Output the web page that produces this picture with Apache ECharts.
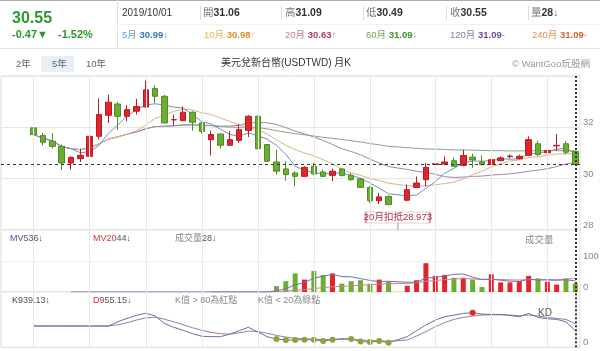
<!DOCTYPE html>
<html><head><meta charset="utf-8">
<script src="https://cdn.jsdelivr.net/npm/echarts@6/dist/echarts.min.js"></script>
<style>html,body{margin:0;padding:0;background:#fff}#c{width:600px;height:351px}</style>
</head><body><div id="c"></div>
<script>
// ---------- DATA ----------
const months = [
 '2015/01','2015/02','2015/03','2015/04','2015/05','2015/06','2015/07','2015/08','2015/09','2015/10','2015/11','2015/12',
 '2016/01','2016/02','2016/03','2016/04','2016/05','2016/06','2016/07','2016/08','2016/09','2016/10','2016/11','2016/12',
 '2017/01','2017/02','2017/03','2017/04','2017/05','2017/06','2017/07','2017/08','2017/09','2017/10','2017/11','2017/12',
 '2018/01','2018/02','2018/03','gap','2018/04','2018/05','2018/06','2018/07','2018/08','2018/09','2018/10','2018/11','2018/12',
 '2019/01','2019/02','2019/03','2019/04','2019/05','2019/06','2019/07','2019/08','2019/09','2019/10'];
const open  = [31.98,31.68,31.46,31.26,30.61,30.78,30.87,31.65,32.47,32.91,32.43,32.63,32.79,33.51,33.21,32.29,32.26,32.59,32.17,31.52,31.74,31.30,31.49,31.88,32.43,31.33,30.65,30.38,30.22,30.09,30.48,30.26,30.13,30.38,30.13,29.99,29.66,29.14,29.31,null,29.16,29.66,29.96,30.55,30.57,30.70,30.52,30.84,30.65,30.55,30.70,30.86,30.78,30.91,31.36,31.01,31.28,31.36,31.06];
const close = [31.72,31.42,31.26,30.61,30.83,30.91,31.65,32.50,32.98,32.43,32.69,32.81,33.46,33.21,32.17,32.30,32.59,32.20,31.84,31.72,31.30,31.52,31.91,32.43,31.17,30.68,30.29,30.16,30.09,30.44,30.18,30.09,30.29,30.12,29.96,29.66,29.14,29.29,28.99,null,29.57,29.83,30.44,30.58,30.65,30.48,30.90,30.73,30.55,30.74,30.81,30.88,30.87,31.52,30.94,31.10,31.30,31.03,30.55];
const low   = [31.05,31.29,31.17,30.35,30.35,30.65,30.87,31.52,32.17,31.91,32.24,32.50,32.79,32.95,32.17,32.08,32.24,31.87,31.75,30.90,31.17,31.30,31.39,31.62,31.14,30.65,30.16,29.92,29.70,30.06,30.16,30.05,29.90,30.09,29.92,29.64,29.05,29.01,28.96,null,29.12,29.64,29.70,30.29,30.52,30.47,30.48,30.42,30.52,30.52,30.68,30.78,30.75,30.88,30.87,30.99,31.09,30.94,30.49];
const high  = [32.00,31.78,31.78,31.33,30.87,31.17,31.72,33.12,33.27,32.98,32.86,33.11,33.82,33.64,33.27,32.50,32.82,32.63,32.21,31.87,31.77,31.85,32.13,32.47,32.46,31.35,31.13,30.68,30.29,30.48,30.61,30.35,30.39,30.42,30.22,30.03,29.70,29.44,29.34,null,29.77,30.09,30.61,30.74,30.87,30.83,31.13,30.97,30.91,30.94,30.87,30.94,30.94,31.65,31.48,31.17,31.74,31.46,31.09];
const ma5  = [31.72,31.57,31.47,31.25,31.17,31.01,31.05,31.30,31.77,32.09,32.45,32.68,32.87,32.92,32.87,32.79,32.75,32.49,32.22,32.13,31.93,31.72,31.66,31.78,31.67,31.54,31.30,30.95,30.48,30.33,30.23,30.19,30.22,30.22,30.13,30.02,29.83,29.63,29.41,null,29.33,29.36,29.62,29.88,30.21,30.40,30.61,30.69,30.68,30.70,30.77,30.76,30.77,30.96,31.00,31.06,31.15,31.18,30.98];
const ma10 = [31.72,31.57,31.47,31.25,31.17,31.13,31.20,31.36,31.54,31.63,31.73,31.87,32.09,32.35,32.48,32.62,32.71,32.68,32.57,32.50,32.36,32.23,32.08,32.00,31.90,31.74,31.51,31.30,31.13,31.00,30.89,30.74,30.58,30.35,30.23,30.13,30.01,29.93,29.82,null,29.73,29.69,29.73,29.76,29.81,29.86,29.99,30.16,30.28,30.46,30.58,30.69,30.73,30.82,30.85,30.92,30.96,30.97,30.97];
const ma20 = [31.72,31.57,31.47,31.25,31.17,31.13,31.20,31.36,31.54,31.63,31.73,31.82,31.94,32.03,32.04,32.06,32.09,32.10,32.08,32.07,32.04,32.05,32.08,32.17,32.19,32.18,32.11,31.99,31.85,31.75,31.62,31.49,31.33,31.17,31.06,30.93,30.76,30.61,30.47,null,30.36,30.29,30.24,30.17,30.08,30.05,30.06,30.09,30.10,30.14,30.16,30.19,30.23,30.29,30.33,30.39,30.47,30.57,30.63];
const ma60 = [31.72,31.57,31.47,31.25,31.17,31.13,31.20,31.36,31.54,31.63,31.73,31.82,31.94,32.03,32.04,32.06,32.09,32.10,32.08,32.07,32.03,32.01,32.00,32.02,31.99,31.94,31.87,31.81,31.75,31.71,31.66,31.61,31.57,31.53,31.48,31.43,31.37,31.32,31.26,null,31.21,31.18,31.16,31.15,31.14,31.12,31.12,31.11,31.10,31.09,31.09,31.08,31.08,31.09,31.09,31.09,31.09,31.09,31.08];
const volume = [0,0,0,0,0,0,0,0,0,0,0,0,0,0,0,0,0,0,0,0,0,0,0,0,0,0,19,35,60,40,68,55,60,27,35,38,27,40,33,null,20,38,93,52,55,46,46,40,16,57,31,31,35,52,44,33,24,44,28];
const mv5  = [null,null,null,null,0,0,0,0,0,0,0,0,0,0,0,0,0,0,0,0,0,0,0,0,0,0,3.8,10.8,22.8,30.8,44.4,51.6,56.6,50,49,43,37.4,33.4,34.6,null,31.6,31.6,44.8,47.2,51.6,56.8,58.4,47.8,40.6,41,38,35,34,41.2,38.6,39,37.6,39.4,36];
const mv20 = [null,null,null,null,null,null,null,null,null,null,null,null,null,null,null,null,null,null,null,0,0,0,0,0,0,0,1,2.7,5.7,7.7,11.1,13.9,16.9,18.2,20,21.9,23.3,25.3,26.9,null,27.9,29.8,34.5,37,39.8,42.1,43.2,42.2,40.3,41.4,40.4,39.2,38.6,39.9,40.2,40,39.9,40.8,44];
const kLine = [50,50,50,50,50,50,50,50,50,60,68,75,80,74,56,47,40,32,26,25,25,31,39,47,36,25,19.5,17.2,17.2,17.9,17.9,15,17.9,20.3,19.5,13.9,12.3,15,10.7,null,25,39,52.4,64.1,71.8,75.7,79.6,81.3,78.1,77.3,77.3,75,71.8,79.6,70.3,67.1,65.6,60.1,39.13];
const dLine = [50,50,50,50,50,50,50,50,50,53,58,64,69,71,66,60,53,46,40,35,32,31,34,38,37,33,28,24,21,20,19,18,18,19,19,17,16,15,14,null,17.2,26.6,36.7,48.4,57.8,65.6,70.3,73.5,75.7,76.5,76.5,75.7,74.2,75.7,73.5,70.3,67.9,65.6,55.15];
const lastPrice = 30.55;
const deduct20 = 28.973;
const priceTicks = [28, 30, 32];
const volTicks = [0, 100];
const header = {date:'2019/10/01', open:'31.06', high:'31.09', low:'30.49', close:'30.55', vol:'28', chg:'-0.47', pct:'-1.52%'};
const maLabels = [['5月','30.99','↓'],['10月','30.98','↑'],['20月','30.63','↑'],['60月','31.09','↓'],['120月','31.09','-'],['240月','31.09','-']];

// ---------- BUILD ----------
const FONT = '"Liberation Sans", Arial, "Noto Sans CJK TC", sans-serif';
const PADN = 3;
const cats = ['p1','p2','p3'].concat(months);
const pad = a => [null,null,null].concat(a);
const candles = ['-','-','-'].concat(months.map((m,i)=> open[i]==null ? '-' : [open[i], close[i], low[i], high[i]]));
const gapIndex = PADN + months.indexOf('gap');
const RED = '#e0262c', GREEN = '#6cae34';
const volData = pad(volume).map((v,i)=>{
  const j = i - PADN;
  if (v == null) return '-';
  const up = j>=0 && close[j] >= open[j];
  return {value: v, itemStyle:{color: up ? RED : GREEN}};
});
const vGrid = months.filter(m => /\/(01|07)$/.test(m)).map(m => ({xAxis: m}));
const vGridSeries = (gi) => ({
  type:'line', xAxisIndex:gi, yAxisIndex:gi, data: cats.map(()=>null), z:0, silent:true,
  markLine:{silent:true, symbol:['none','none'], label:{show:false}, animation:false,
    lineStyle:{color:'#e8e8e8', width:1, type:'solid'}, data: vGrid}
});
const lastLine = (gi) => ({
  type:'line', xAxisIndex:gi, yAxisIndex:gi, data: cats.map(()=>null), z:6, silent:true,
  markLine:{silent:true, symbol:['none','none'], label:{show:false}, animation:false,
    lineStyle:{color:'#333', width:2, type:[2,2]}, data:[{xAxis: months[months.length-1]}]}
});
const lineS = (gi, data, color, extra) => Object.assign({
  type:'line', xAxisIndex:gi, yAxisIndex:gi, data: pad(data), showSymbol:false, symbol:'none',
  connectNulls:true, lineStyle:{color, width:1}, itemStyle:{color}, z:3, silent:true
}, extra||{});

const axisLabelBase = {color:'#888', fontSize:9.5, fontFamily:FONT, verticalAlign:'bottom', margin:3};
const xAxes = [0,1,2].map(gi => ({type:'category', gridIndex:gi, data:cats, boundaryGap:true,
  axisLine:{show:false}, axisTick:{show:false}, axisLabel:{show:false}, splitLine:{show:false}}));
const yAxes = [
  {type:'value', gridIndex:0, position:'right', min:28, max:34, interval:2, scale:true,
   axisLine:{show:false}, axisTick:{show:false},
   axisLabel:Object.assign({formatter:v=> priceTicks.includes(v)? String(v):''}, axisLabelBase),
   splitLine:{lineStyle:{color:'#e6e6e6'}}},
  {type:'value', gridIndex:1, position:'right', min:0, max:200, interval:100,
   axisLine:{show:false}, axisTick:{show:false},
   axisLabel:Object.assign({formatter:v=> volTicks.includes(v)? String(v):''}, axisLabelBase),
   splitLine:{lineStyle:{color:'#f0f0f0'}}},
  {type:'value', gridIndex:2, position:'right', min:0, max:130, interval:130,
   axisLine:{show:false}, axisTick:{show:false},
   axisLabel:Object.assign({formatter:v=> v===0? '0':''}, axisLabelBase),
   splitLine:{show:false}}
];
const gridBase = {left:1, right:20, show:true, borderColor:'#dadada', borderWidth:1, outerBoundsMode:'none', containLabel:false};
const grids = [
  Object.assign({top:76, height:154}, gridBase),
  Object.assign({top:230, height:62}, gridBase),
  Object.assign({top:292, height:55.3}, gridBase)
];

// ---------- TEXT ----------
const T = (x, y, text, rich, align) => ({type:'text', x, y, silent:true, z:100,
  style:{text, rich, fill:'#555', fontSize:11, fontFamily:FONT, verticalAlign:'middle', align: align||'left'}});
const R = (fill, size, bold) => ({fill, fontSize:size, fontFamily:FONT, fontWeight: bold?'bold':'normal'});
const hline = (x1,y,x2,c) => ({type:'line', silent:true, z:90, shape:{x1, y1:y, x2, y2:y}, style:{stroke:c, lineWidth:1}});
const vline = (x,y1,y2,c) => ({type:'line', silent:true, z:90, shape:{x1:x, y1, x2:x, y2}, style:{stroke:c, lineWidth:1}});
const maColors = [['#6a9ad0','#3a78b8'],['#e6b060','#d99024'],['#c07898','#a83c70'],['#6aa850','#3e9028'],['#8a7ab0','#6a4c9c'],['#e88a50','#d8602a']];
const maX = [122,204,285,366,450,532];
const graphics = [
  hline(0,0.5,600,'#aaa'),
  vline(117.5,0,48,'#e0e0e0'),
  hline(0,48.5,600,'#e4e4e4'),
  hline(117,24.5,600,'#f0f0f0'),
  T(12, 19, '{a|30.55}', {a:R('#2d962d',16,true)}),
  T(12, 35, '{a|'+header.chg+'▼}', {a:R('#2d962d',11,true)}),
  T(58, 35, '{a|'+header.pct+'}', {a:R('#2d962d',11,true)}),
  T(122, 13, '{a|'+header.date+'}', {a:R('#333',10,false)}),
  T(203, 13, '{g|開}{b|'+header.open+'}', {g:R('#777',10.5,false), b:R('#333',10.5,true)}),
  T(285, 13, '{g|高}{b|'+header.high+'}', {g:R('#777',10.5,false), b:R('#333',10.5,true)}),
  T(366, 13, '{g|低}{b|'+header.low+'}', {g:R('#777',10.5,false), b:R('#333',10.5,true)}),
  T(450, 13, '{g|收}{b|'+header.close+'}', {g:R('#777',10.5,false), b:R('#333',10.5,true)}),
  T(531, 13, '{g|量}{b|'+header.vol+'}{g|↓}', {g:R('#777',10.5,false), b:R('#333',10.5,true)}),
  vline(200.5,6,20,'#ddd'), vline(281.5,6,20,'#ddd'), vline(363.5,6,20,'#ddd'), vline(446.5,6,20,'#ddd'), vline(528.5,6,20,'#ddd'),
  ...maLabels.map((m,i)=> T(maX[i], 35, '{a|'+m[0]+' }{b|'+m[1]+'}{a|'+m[2]+'}', {a:R(maColors[i][0],9.5,false), b:R(maColors[i][1],9.5,true)})),
  // title row
  {type:'rect', silent:true, z:80, shape:{x:41, y:56, width:33, height:16}, style:{fill:'#e8eff7'}},
  T(16, 64, '{a|2年}', {a:R('#666',9.5,false)}),
  T(52, 64, '{a|5年}', {a:R('#666',9.5,false)}),
  T(86, 64, '{a|10年}', {a:R('#666',9.5,false)}),
  T(286, 63, '{a|美元兌新台幣(USDTWD) 月K}', {a:R('#333',10,false)}, 'center'),
  T(512, 64, '{a|© WantGoo玩股網}', {a:R('#999',9.5,false)}),
  // volume labels
  T(10, 239, '{a|MV5}{b|36↓}', {a:R('#55559c',9,false), b:R('#555',9,false)}),
  T(93, 239, '{a|MV20}{b|44↓}', {a:R('#c0404e',9,false), b:R('#555',9,false)}),
  T(175, 239, '{a|成交量}{b|28↓}', {a:R('#888',9,false), b:R('#555',9,false)}),
  T(525, 240, '{a|成交量}', {a:R('#888',9.5,false)}),
  // KD labels
  T(12, 301, '{a|K9}{b|39.13↓}', {a:R('#444',9,false), b:R('#555',9,false)}),
  T(93, 301, '{a|D9}{b|55.15↓}', {a:R('#c0303c',9,false), b:R('#555',9,false)}),
  T(175, 301, '{a|K值 > 80為紅點}', {a:R('#888',9,false)}),
  T(258, 301, '{a|K值 < 20為綠點}', {a:R('#888',9,false)}),
  T(538, 313, '{a|KD}', {a:R('#555',10,false)})
];

const option = {
  animation:false,
  backgroundColor:'#fff',
  grid: grids, xAxis: xAxes, yAxis: yAxes,
  graphic: graphics,
  series: [
    vGridSeries(0), vGridSeries(1), vGridSeries(2),
    {type:'candlestick', xAxisIndex:0, yAxisIndex:0, data:candles, barWidth:6, z:4, silent:true,
     itemStyle:{color:RED, color0:GREEN, borderColor:'#b81c20', borderColor0:'#4f8c22', borderWidth:1},
     markLine:{silent:true, symbol:['none','none'], label:{show:false}, animation:false,
       data:[{yAxis:lastPrice, lineStyle:{color:'#333', width:1, type:[3,3]}}]},
     markPoint:{silent:true, animation:false, data:[
       {coord:[gapIndex, 28], symbol:'rect', symbolSize:[1,8], symbolOffset:[0,-4], itemStyle:{color:'#c98c98'}, label:{show:false}},
       {coord:[gapIndex, 28], symbol:'rect', symbolSize:[64,11], symbolOffset:[0,-12.5],
        itemStyle:{color:'#fff', borderColor:'#d4a0aa', borderWidth:1},
        label:{show:true, position:'inside', formatter:'20月扣抵'+deduct20, color:'#a8324a', fontSize:9.5, fontFamily:FONT}}
     ]}},
    lineS(0, ma60, '#8f9f8f'),
    lineS(0, ma20, '#a884a4'),
    lineS(0, ma10, '#d9b48a'),
    lineS(0, ma5, '#6d94bb'),
    {type:'bar', xAxisIndex:1, yAxisIndex:1, data:volData, barWidth:5, z:3, silent:true},
    lineS(1, mv20, '#d08090'),
    lineS(1, mv5, '#7070b0'),
    lineS(2, dLine, '#a47a96'),
    lineS(2, kLine, '#6c6ca8', {showSymbol:true, symbol:'circle',
      symbolSize:(v)=> (v!=null && (v<20 || v>80)) ? 6 : 0,
      itemStyle:{color:(p)=> p.value>80 ? '#e02a2a' : '#8aa63a', borderColor:'#ffffff', borderWidth:0}}),
    lastLine(0), lastLine(1), lastLine(2)
  ]
};
const chart = echarts.init(document.getElementById('c'), null, {renderer:'canvas'});
chart.setOption(option);
</script></body></html>
